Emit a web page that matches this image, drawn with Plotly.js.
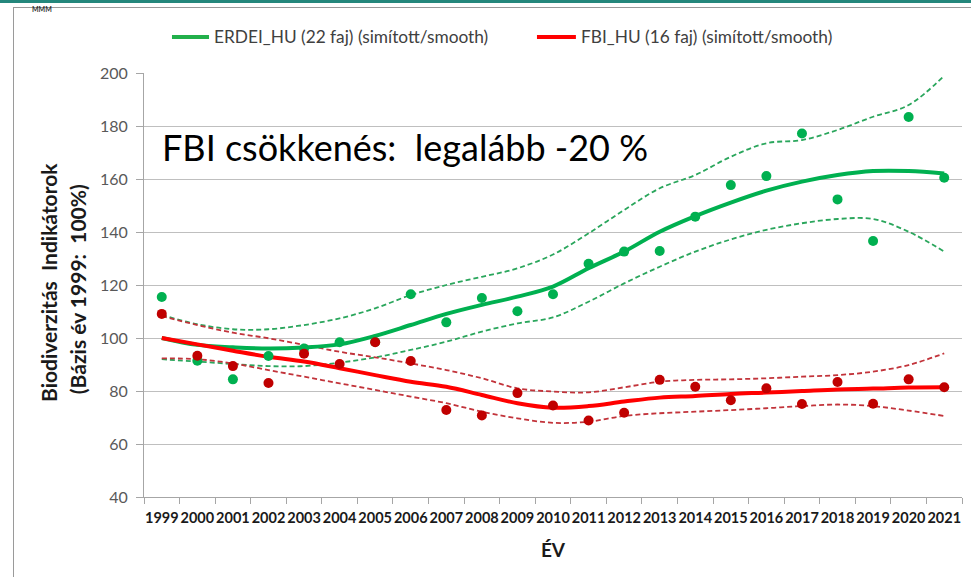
<!DOCTYPE html>
<html>
<head>
<meta charset="utf-8">
<script src="https://cdn.plot.ly/plotly-3.0.1.min.js"></script>
<style>
  html, body { margin: 0; padding: 0; background: #ffffff; }
  #wrap { position: relative; width: 971px; height: 577px; overflow: hidden; background: #fff; }
  #band { position: absolute; left: 0; top: 0; width: 971px; height: 3px; background: #24877c; }
  #frame { position: absolute; left: 13px; top: 7px; width: 1000px; height: 600px;
           border-left: 1.5px solid #9a9a9a; border-top: 1.5px solid #9a9a9a; }
  #chart { position: absolute; left: 0; top: 0; width: 971px; height: 577px; }
</style>
</head>
<body>
<div id="wrap">
  <div id="band"></div>
  <div id="frame"></div>
  <div id="chart"></div>
</div>
<script>
const years = ['1999','2000','2001','2002','2003','2004','2005','2006','2007','2008','2009','2010',
               '2011','2012','2013','2014','2015','2016','2017','2018','2019','2020','2021'];

const erdeiPoints = [115.5, 91.4, 84.4, 93.2, 96.0, 98.4, 98.5, 116.5, 105.9, 115.1, 110.1, 116.5,
                     128.0, 132.6, 132.8, 145.8, 157.7, 161.1, 177.2, 152.3, 136.6, 183.4, 160.5];
const erdeiSmooth = [100, 97.4, 96.5, 96.0, 96.4, 97.6, 100.8, 104.9, 109.1, 112.5, 115.6, 119.4,
                     126.3, 132.6, 140.1, 146.0, 151.1, 155.6, 159.0, 161.5, 163.0, 163.0, 162.1];
const erdeiUpper  = [108.7, 105.2, 103.3, 103.3, 104.9, 107.4, 111.2, 116.2, 120.0, 123.1, 126.3, 131.5,
                     139.5, 148.3, 156.5, 161.5, 168.4, 173.5, 174.7, 178.5, 183.5, 187.9, 199.0];
const erdeiLower  = [92.0, 91.1, 90.2, 89.4, 89.4, 90.7, 92.7, 95.5, 98.6, 102.4, 105.5, 107.8,
                     113.7, 120.6, 126.9, 132.6, 137.2, 140.8, 143.3, 144.9, 144.9, 140.1, 132.6];

const fbiPoints = [109.1, 93.3, 89.4, 83.0, 94.1, 90.2, 98.4, 91.3, 72.8, 70.8, 79.2, 74.5,
                   68.9, 71.8, 84.2, 81.6, 76.5, 81.0, 75.1, 83.4, 75.2, 84.4, 81.4];
const fbiSmooth = [100, 97.6, 95.2, 92.9, 91.1, 88.6, 86.0, 83.5, 81.6, 78.5, 75.4, 73.7,
                   74.3, 76.0, 77.5, 78.1, 78.9, 79.4, 80.0, 80.6, 80.9, 81.3, 81.4];
const fbiUpper  = [108.3, 104.9, 102.0, 99.9, 97.4, 94.8, 92.7, 90.4, 87.9, 84.8, 81.0, 79.8,
                   79.5, 81.4, 83.5, 84.2, 84.4, 84.8, 85.4, 86.0, 87.3, 89.8, 94.2];
const fbiLower  = [92.3, 92.0, 90.4, 87.9, 85.4, 82.9, 80.4, 77.9, 75.4, 72.2, 69.7, 68.0,
                   68.4, 70.6, 71.6, 72.2, 72.8, 73.5, 74.3, 74.9, 74.3, 72.6, 70.6];

const yTicks = [40, 60, 80, 100, 120, 140, 160, 180, 200];

const legendErdei = 'ERDEI_HU (22 faj) (simított/smooth)';
const legendFbi = 'FBI_HU (16 faj) (simított/smooth)';
const yTitle1 = 'Biodiverzitás\u00a0 Indikátorok';
const yTitle2 = '(Bázis év 1999:\u00a0 100%)';
const xTitle = 'ÉV';
const noteText = 'FBI csökkenés:\u00a0 legalább -20 %';

const GREEN = '#00b050', GREEN_DASH = '#2aa65c';
const RED = '#ff0000', DARKRED = '#c00000', RED_DASH = '#c2333a';
const FONT = 'Lato, "Open Sans", sans-serif';

function dashed(y, color) {
  return { x: years, y: y, type: 'scatter', mode: 'lines', showlegend: false, hoverinfo: 'skip',
           line: { color: color, width: 1.8, dash: '5px,3px', shape: 'spline', smoothing: 1 } };
}
function solid(y, color) {
  return { x: years, y: y, type: 'scatter', mode: 'lines', showlegend: false,
           line: { color: color, width: 4, shape: 'spline', smoothing: 1 } };
}
function dots(y, color) {
  return { x: years, y: y, type: 'scatter', mode: 'markers', showlegend: false,
           marker: { color: color, size: 10 } };
}

const traces = [
  dashed(erdeiUpper, GREEN_DASH), dashed(erdeiLower, GREEN_DASH),
  dashed(fbiUpper, RED_DASH), dashed(fbiLower, RED_DASH),
  solid(erdeiSmooth, GREEN), solid(fbiSmooth, RED),
  dots(erdeiPoints, GREEN), dots(fbiPoints, DARKRED)
];

const layout = {
  width: 971, height: 577,
  margin: { l: 144, r: 9, t: 73, b: 80 },
  paper_bgcolor: 'rgba(0,0,0,0)',
  plot_bgcolor: 'rgba(0,0,0,0)',
  showlegend: false,
  font: { family: FONT },
  xaxis: {
    type: 'category', range: [-0.5, 22.5],
    tickson: 'boundaries', ticks: 'outside', ticklen: 6, tickcolor: '#a6a6a6',
    showline: true, linecolor: '#a6a6a6', linewidth: 1,
    showgrid: false, zeroline: false,
    tickfont: { family: FONT, size: 14.5, color: '#1a1a1a', weight: 'bold' },
    tickangle: 0, ticklabelstandoff: 8,
    title: { text: xTitle, font: { family: FONT, size: 19, color: '#1a1a1a', weight: 'bold' }, standoff: 18 }
  },
  yaxis: {
    range: [40, 200], tickvals: yTicks,
    ticks: 'outside', ticklen: 7, tickcolor: '#a6a6a6',
    showline: true, linecolor: '#a6a6a6', linewidth: 1,
    showgrid: true, gridcolor: '#bfbfbf', gridwidth: 1, zeroline: false,
    tickfont: { family: FONT, size: 16, color: '#595959' },
    ticklabelstandoff: 5
  },
  shapes: [
    { type: 'line', xref: 'paper', yref: 'paper', x0: 0.0342, x1: 0.0795, y0: 1.085, y1: 1.085,
      line: { color: '#22b04b', width: 4 } },
    { type: 'line', xref: 'paper', yref: 'paper', x0: 0.4804, x1: 0.528, y0: 1.085, y1: 1.085,
      line: { color: RED, width: 4 } }
  ],
  annotations: [
    { xref: 'paper', yref: 'paper', x: 0.0831, y: 1.085, xanchor: 'left', yanchor: 'middle',
      text: legendErdei, showarrow: false, font: { family: FONT, size: 17.3, color: '#404040' } },
    { xref: 'paper', yref: 'paper', x: 0.5318, y: 1.085, xanchor: 'left', yanchor: 'middle',
      text: legendFbi, showarrow: false, font: { family: FONT, size: 17.3, color: '#404040' } },
    { xref: 'paper', yref: 'paper', x: -0.116, y: 0.505, xanchor: 'center', yanchor: 'middle',
      textangle: -90, text: yTitle1, showarrow: false,
      font: { family: FONT, size: 21, color: '#1a1a1a', weight: 'bold' } },
    { xref: 'paper', yref: 'paper', x: -0.082, y: 0.49, xanchor: 'center', yanchor: 'middle',
      textangle: -90, text: yTitle2, showarrow: false,
      font: { family: FONT, size: 21, color: '#1a1a1a', weight: 'bold' } },
    { xref: 'paper', yref: 'paper', x: 0.0196, y: 0.826, xanchor: 'left', yanchor: 'middle',
      text: noteText, showarrow: false, font: { family: FONT, size: 36, color: '#000000' } },
    { xref: 'paper', yref: 'paper', x: -0.125, y: 1.15, xanchor: 'center', yanchor: 'middle',
      text: 'MMM', showarrow: false, font: { family: FONT, size: 7, color: '#333', weight: 'bold' } }
  ]
};

Plotly.newPlot('chart', traces, layout, { displayModeBar: false, staticPlot: true });
</script>
</body>
</html>
